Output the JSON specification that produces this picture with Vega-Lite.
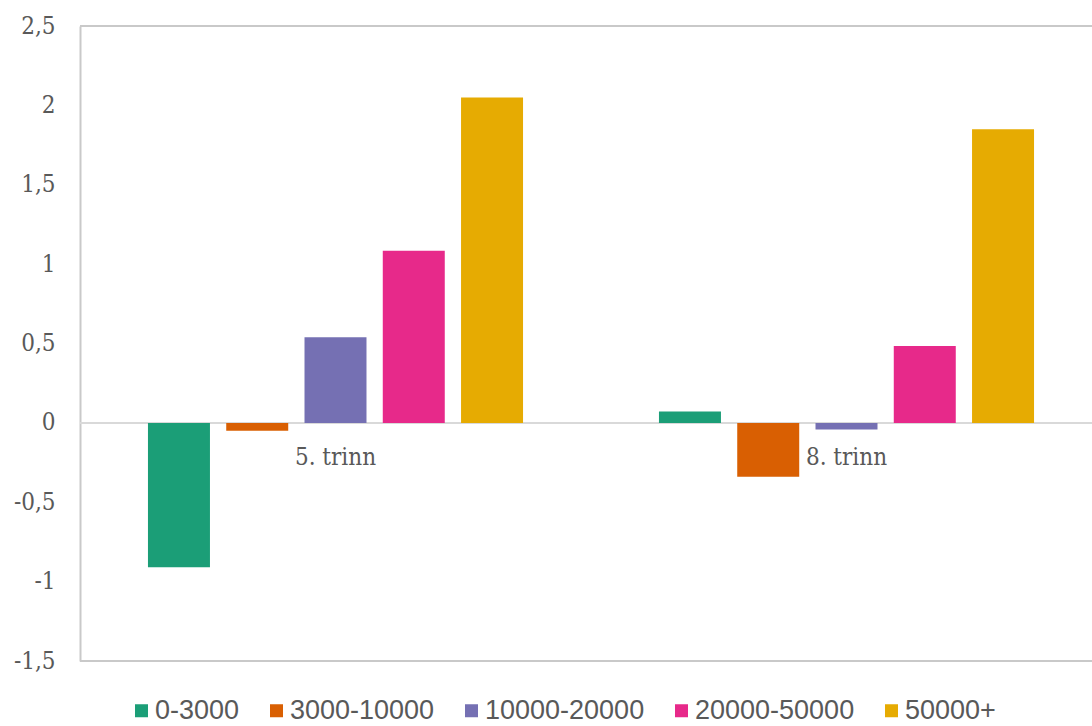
{
  "$schema": "https://vega.github.io/schema/vega-lite/v6.json",
  "width": 1012,
  "height": 635,
  "autosize": {"type": "none"},
  "padding": {"left": 80, "top": 26, "right": 0, "bottom": 65},
  "background": "white",
  "config": {
    "view": {"stroke": null},
    "axis": {"labelFont": "DejaVu Serif Condensed", "labelFontSize": 24, "labelColor": "#595959"},
    "legend": {"labelFont": "Liberation Sans", "labelFontSize": 27, "labelColor": "#595959"}
  },
  "datasets": {
    "bars": [
      {"trinn": "5. trinn", "gruppe": "0-3000", "verdi": -0.91},
      {"trinn": "5. trinn", "gruppe": "3000-10000", "verdi": -0.05},
      {"trinn": "5. trinn", "gruppe": "10000-20000", "verdi": 0.54},
      {"trinn": "5. trinn", "gruppe": "20000-50000", "verdi": 1.085},
      {"trinn": "5. trinn", "gruppe": "50000+", "verdi": 2.05},
      {"trinn": "8. trinn", "gruppe": "0-3000", "verdi": 0.072},
      {"trinn": "8. trinn", "gruppe": "3000-10000", "verdi": -0.34},
      {"trinn": "8. trinn", "gruppe": "10000-20000", "verdi": -0.042},
      {"trinn": "8. trinn", "gruppe": "20000-50000", "verdi": 0.485},
      {"trinn": "8. trinn", "gruppe": "50000+", "verdi": 1.85}
    ],
    "trinn": [{"trinn": "5. trinn"}, {"trinn": "8. trinn"}],
    "rammer": [{"v": 2.5, "type": "ramme"}, {"v": -1.5, "type": "ramme"}, {"v": 0, "type": "null"}]
  },
  "layer": [
    {
      "data": {"name": "rammer"},
      "mark": {"type": "rule", "strokeWidth": 2},
      "encoding": {
        "y": {"field": "v", "type": "quantitative", "scale": {"domain": [-1.5, 2.5]}},
        "color": {
          "field": "type", "type": "nominal", "legend": null,
          "scale": {"domain": ["ramme", "null"], "range": ["#c9c9c9", "#d9d9d9"]}
        }
      }
    },
    {
      "data": {"name": "bars"},
      "mark": {"type": "bar"},
      "encoding": {
        "x": {
          "field": "trinn", "type": "nominal", "title": null,
          "scale": {"range": [0, 1022], "paddingInner": 0.266, "paddingOuter": 0.133},
          "axis": null
        },
        "xOffset": {
          "field": "gruppe", "type": "nominal",
          "sort": ["0-3000", "3000-10000", "10000-20000", "20000-50000", "50000+"],
          "scale": {"paddingInner": 0.208, "paddingOuter": 0}
        },
        "y": {
          "field": "verdi", "type": "quantitative", "title": null,
          "scale": {"domain": [-1.5, 2.5], "nice": false, "zero": false},
          "axis": {
            "values": [-1.5, -1, -0.5, 0, 0.5, 1, 1.5, 2, 2.5],
            "labelExpr": "replace(datum.value + '', '.', ',')",
            "grid": false, "ticks": false, "labelPadding": 25,
            "domain": true, "domainColor": "#c9c9c9", "domainWidth": 2
          }
        },
        "color": {
          "field": "gruppe", "type": "nominal", "title": null,
          "sort": ["0-3000", "3000-10000", "10000-20000", "20000-50000", "50000+"],
          "scale": {"range": ["#1b9e77", "#d95f02", "#7570b3", "#e7298a", "#e6ab02"]},
          "legend": {
            "orient": "none", "direction": "horizontal",
            "legendX": 48, "legendY": 671,
            "symbolType": "square", "symbolSize": 169, "symbolStrokeWidth": 0,
            "labelOffset": 0, "columnPadding": 23
          }
        }
      }
    },
    {
      "data": {"name": "trinn"},
      "mark": {"type": "text", "font": "DejaVu Serif Condensed", "fontSize": 24, "color": "#595959", "baseline": "alphabetic", "dy": 42},
      "encoding": {
        "x": {"field": "trinn", "type": "nominal"},
        "y": {"datum": 0},
        "text": {"field": "trinn"}
      }
    }
  ],
  "resolve": {"scale": {"color": "independent"}}
}
